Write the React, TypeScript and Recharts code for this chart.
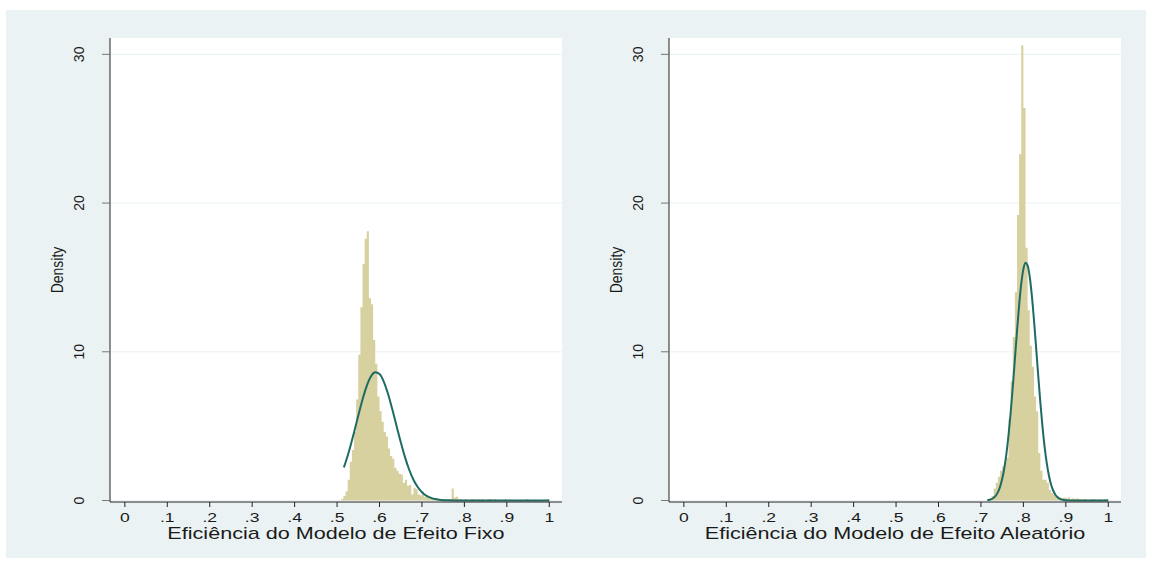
import React from 'react';
import { ComposedChart, Area, Line, XAxis, YAxis, CartesianGrid } from 'recharts';

// x axis ticks and their labels (Stata style, no leading zero)
const xTicks = [0, 0.1, 0.2, 0.3, 0.4, 0.5, 0.6, 0.7, 0.8, 0.9, 1];
const xTickLabels = ['0', '.1', '.2', '.3', '.4', '.5', '.6', '.7', '.8', '.9', '1'];
const yTicks = [0, 10, 20, 30];

// histogram bins (width 0.005)
const binWidth = 0.005;
const fixoStart = 0.51;
const fixoDensity = [
  0.1, 0.3, 0.6, 1.4, 2.6, 3.4, 4.6, 6.8, 9.8, 13.0,
  15.9, 17.6, 18.1, 13.6, 13.2, 10.8, 9.2, 7.0, 6.0, 5.3,
  4.6, 4.3, 3.5, 3.0, 2.8, 2.2, 2.0, 1.8, 1.75, 1.2,
  1.4, 1.0, 1.05, 0.4, 0.85, 0.75, 0.4, 0.35, 0.6, 0.25,
  0.35, 0.2, 0.15, 0.15, 0.1, 0.15, 0.1, 0.1, 0.1, 0.05,
  0.1, 0.1, 0.8, 0.2, 0.25, 0.1, 0.1, 0.05, 0.1, 0.05,
  0, 0.1, 0.1, 0.05, 0.1, 0.05, 0.1, 0, 0.05, 0.1,
  0.1, 0.05, 0.1, 0.05, 0, 0.05, 0.05, 0.1, 0, 0.05,
  0, 0, 0.05, 0, 0, 0.05, 0, 0.1, 0.05, 0,
  0, 0.05, 0, 0, 0, 0.05, 0, 0.1,
];

const aleatStart = 0.715;
const aleatDensity = [
  0.1, 0.15, 0.3, 0.8, 1.2, 1.6, 2.0, 2.3, 2.6, 2.9,
  5.5, 8.0, 11.0, 14.0, 19.2, 23.3, 30.6, 26.4, 17.0, 12.8,
  10.4, 9.0, 7.0, 6.0, 3.2, 2.0, 1.4, 1.4, 1.2, 0.7,
  0.5, 0.4, 0.3, 0.25, 0.2, 0.15, 0.2, 0.15, 0.2, 0.1,
  0.15, 0.1, 0.15, 0.1, 0.05, 0.1, 0.1, 0.05, 0.05, 0.1,
  0.1, 0.05, 0.05, 0.1, 0.05, 0.1, 0.1,
];

// normal density overlays
const fixoCurveX = [
  0.516, 0.52, 0.53, 0.54, 0.55, 0.56, 0.57, 0.58, 0.59, 0.6,
  0.61, 0.62, 0.63, 0.64, 0.65, 0.66, 0.67, 0.68, 0.69, 0.7,
  0.71, 0.72, 0.73, 0.74, 0.75, 0.76, 0.78, 0.8, 0.85, 0.9, 0.95, 1.0,
];
const fixoCurveY = [
  2.23, 2.56, 3.5, 4.58, 5.71, 6.79, 7.71, 8.35, 8.62, 8.5,
  8.0, 7.18, 6.15, 5.03, 3.93, 2.92, 2.07, 1.4, 0.91, 0.56,
  0.33, 0.19, 0.1, 0.05, 0.02, 0.01, 0, 0, 0, 0, 0, 0,
];

const aleatCurveX = [
  0.715, 0.72, 0.725, 0.73, 0.735, 0.74, 0.745, 0.75, 0.755, 0.76,
  0.765, 0.77, 0.775, 0.78, 0.785, 0.79, 0.795, 0.8, 0.805, 0.81,
  0.815, 0.82, 0.825, 0.83, 0.835, 0.84, 0.845, 0.85, 0.855, 0.86,
  0.865, 0.87, 0.875, 0.88, 0.885, 0.89, 0.895, 0.9, 0.92, 0.95, 1.0,
];
const aleatCurveY = [
  0.03, 0.05, 0.1, 0.19, 0.33, 0.56, 0.92, 1.44, 2.17, 3.14,
  4.39, 5.9, 7.64, 9.51, 11.4, 13.14, 14.58, 15.56, 15.99, 15.8,
  15.03, 13.76, 12.12, 10.28, 8.38, 6.58, 4.97, 3.61, 2.53, 1.7,
  1.1, 0.69, 0.41, 0.24, 0.13, 0.07, 0.04, 0.02, 0, 0, 0,
];

const FONT = '"Liberation Sans", Arial, sans-serif';
const BAR_COLOR = '#d7d09f';
const LINE_COLOR = '#1f6b64';
const BG = '#eaf2f3';

// step-area points at bin edges so the area draws like histogram bars
function toHist(start: number, values: number[]) {
  const pts = values.map((d, i) => ({ x: +(start + i * binWidth).toFixed(4), d }));
  pts.push({ x: +(start + values.length * binWidth).toFixed(4), d: values[values.length - 1] });
  return pts;
}
function toCurve(xs: number[], ys: number[]) {
  return xs.map((x, i) => ({ x, d: ys[i] }));
}

const XTick = (props: any) => {
  const { x, y, payload } = props;
  const i = xTicks.indexOf(payload.value);
  return (
    <text
      transform={`translate(${x},${y + 13}) scale(1.3,1)`}
      textAnchor="middle"
      fontSize={13.5}
      fontFamily={FONT}
      fill="#1a1a1a"
    >
      {xTickLabels[i]}
    </text>
  );
};

const YTick = (props: any) => {
  const { x, y, payload } = props;
  return (
    <text
      transform={`translate(${x - 16},${y}) rotate(-90)`}
      textAnchor="middle"
      fontSize={14}
      fontFamily={FONT}
      fill="#1a1a1a"
    >
      {payload.value}
    </text>
  );
};

const XTitle = (props: any) => {
  const { viewBox, text } = props;
  const cx = viewBox.x + viewBox.width / 2;
  return (
    <text
      transform={`translate(${cx},${viewBox.y + 37}) scale(1.35,1)`}
      textAnchor="middle"
      fontSize={16}
      fontFamily={FONT}
      fill="#1a1a1a"
    >
      {text}
    </text>
  );
};

const YTitle = (props: any) => {
  const { viewBox } = props;
  const bx = viewBox.x + viewBox.width - 47;
  const cy = viewBox.y + viewBox.height / 2;
  return (
    <text
      transform={`translate(${bx},${cy}) rotate(-90) scale(1,1.15)`}
      textAnchor="middle"
      fontSize={14}
      fontFamily={FONT}
      fill="#1a1a1a"
    >
      Density
    </text>
  );
};

function Panel({ hist, curve, title, margin }: any) {
  return (
    <ComposedChart width={570} height={548} margin={margin}>
      <CartesianGrid fill="#ffffff" stroke={BG} vertical={false} horizontalValues={yTicks} />
      <XAxis
        type="number"
        dataKey="x"
        domain={[-0.035, 1.03]}
        ticks={xTicks}
        allowDataOverflow
        height={40}
        interval={0}
        tickSize={5}
        axisLine={{ stroke: '#222' }}
        tickLine={{ stroke: '#222' }}
        tick={<XTick />}
        label={<XTitle text={title} />}
      />
      <YAxis
        type="number"
        dataKey="d"
        domain={[-0.1, 31.1]}
        ticks={yTicks}
        allowDataOverflow
        width={50}
        interval={0}
        tickSize={8}
        axisLine={{ stroke: '#222' }}
        tickLine={{ stroke: '#777' }}
        tick={<YTick />}
        label={<YTitle />}
      />
      <Area
        data={hist}
        dataKey="d"
        type="stepAfter"
        fill={BAR_COLOR}
        fillOpacity={1}
        stroke="none"
        baseValue={0}
        isAnimationActive={false}
      />
      <Line
        data={curve}
        dataKey="d"
        type="monotone"
        stroke={LINE_COLOR}
        strokeWidth={2}
        dot={false}
        activeDot={false}
        isAnimationActive={false}
      />
    </ComposedChart>
  );
}

export default function App() {
  const fixoHist = toHist(fixoStart, fixoDensity);
  const aleatHist = toHist(aleatStart, aleatDensity);
  const fixoCurve = toCurve(fixoCurveX, fixoCurveY);
  const aleatCurve = toCurve(aleatCurveX, aleatCurveY);

  return (
    <div style={{ position: 'absolute', left: 0, top: 0, width: 1152, height: 562, background: '#fff' }}>
      <div style={{ position: 'absolute', left: 6, top: 10, width: 1140, height: 548, background: BG }} />
      <div style={{ position: 'absolute', left: 6, top: 10 }}>
        <Panel
          hist={fixoHist}
          curve={fixoCurve}
          title="Eficiência do Modelo de Efeito Fixo"
          margin={{ top: 28, right: 14, bottom: 16, left: 54 }}
        />
      </div>
      <div style={{ position: 'absolute', left: 576, top: 10 }}>
        <Panel
          hist={aleatHist}
          curve={aleatCurve}
          title="Eficiência do Modelo de Efeito Aleatório"
          margin={{ top: 28, right: 25, bottom: 16, left: 43 }}
        />
      </div>
    </div>
  );
}
